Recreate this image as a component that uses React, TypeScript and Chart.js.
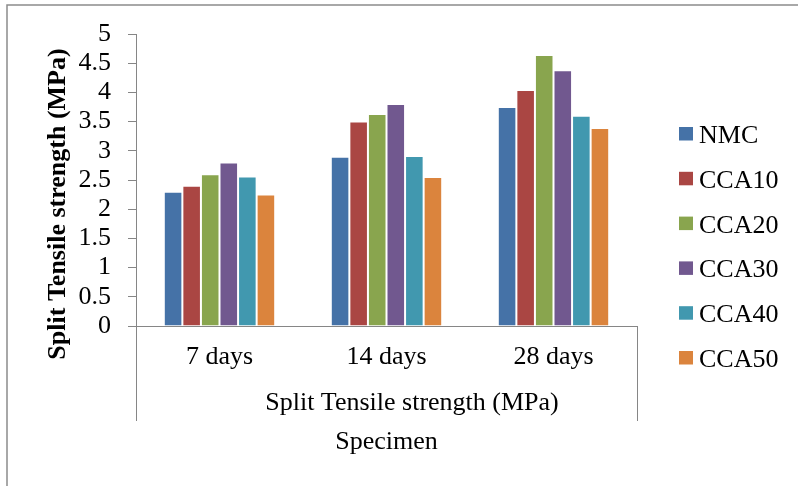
import React, { useEffect, useRef } from "react";
import { Chart, registerables } from "chart.js";

Chart.register(...registerables);

// ---- data ----
const categories = ["7 days", "14 days", "28 days"];
const seriesNames = ["NMC", "CCA10", "CCA20", "CCA30", "CCA40", "CCA50"];
const nmc = [2.3, 2.9, 3.75];
const cca10 = [2.4, 3.5, 4.04];
const cca20 = [2.6, 3.63, 4.64];
const cca30 = [2.8, 3.8, 4.38];
const cca40 = [2.56, 2.91, 3.6];
const cca50 = [2.25, 2.55, 3.39];
const seriesValues = [nmc, cca10, cca20, cca30, cca40, cca50];
const yMin = 0;
const yMax = 5;
const yStep = 0.5;
const groupLabel = "Split Tensile strength (MPa)";
const xTitle = "Specimen";
const yTitle = "Split Tensile strength (MPa)";

// ---- styles ----
const colors = ["#4572A7", "#AA4643", "#89A54E", "#71588F", "#4198AF", "#DB843D"];
const FONT = '"Liberation Serif", "Times New Roman", serif';
const AXIS_GRAY = "#868686";

const decorPlugin = {
  id: "decor",
  afterDraw(chart: any) {
    const ctx = chart.ctx as CanvasRenderingContext2D;
    const { left, right, bottom } = chart.chartArea;
    ctx.save();
    // outer chart border (top & left visible)
    ctx.strokeStyle = "#8c8c8c";
    ctx.lineWidth = 1.5;
    ctx.beginPath();
    ctx.moveTo(7, chart.height);
    ctx.lineTo(7, 5);
    ctx.lineTo(chart.width, 5);
    ctx.stroke();

    // multi-level category box lines
    ctx.strokeStyle = AXIS_GRAY;
    ctx.lineWidth = 1;
    const lx = Math.round(left) + 0.5;
    const rx = Math.round(right) + 0.5;
    ctx.beginPath();
    ctx.moveTo(lx, bottom);
    ctx.lineTo(lx, 421);
    ctx.moveTo(rx, bottom);
    ctx.lineTo(rx, 421);
    ctx.stroke();

    // second-level category label
    ctx.fillStyle = "#000";
    ctx.font = `26px ${FONT}`;
    ctx.textAlign = "center";
    ctx.textBaseline = "alphabetic";
    ctx.fillText(groupLabel, 412, 410);

    // y axis title
    ctx.save();
    ctx.translate(65, 204);
    ctx.rotate(-Math.PI / 2);
    ctx.font = `bold 26px ${FONT}`;
    ctx.textAlign = "center";
    ctx.textBaseline = "alphabetic";
    ctx.fillText(yTitle, 0, 0);
    ctx.restore();

    // legend
    ctx.font = `26px ${FONT}`;
    ctx.textAlign = "left";
    ctx.textBaseline = "alphabetic";
    chart.data.datasets.forEach((ds: any, i: number) => {
      const y0 = 127 + i * 44.8;
      ctx.fillStyle = ds.backgroundColor;
      ctx.fillRect(679, y0, 14, 13.5);
      ctx.fillStyle = "#000";
      ctx.fillText(ds.label, 699, y0 + 16);
    });
    ctx.restore();
  },
};

export default function App() {
  const canvasRef = useRef<HTMLCanvasElement | null>(null);

  useEffect(() => {
    if (!canvasRef.current) return;
    const chart = new Chart(canvasRef.current, {
      type: "bar",
      data: {
        labels: categories,
        datasets: seriesNames.map((name, i) => ({
          label: name,
          data: seriesValues[i],
          backgroundColor: colors[i],
          borderColor: "rgba(255,255,255,0.45)",
          borderWidth: 1,
          categoryPercentage: 0.667,
          barPercentage: 1.0,
        })),
      },
      options: {
        animation: false,
        responsive: false,
        maintainAspectRatio: false,
        layout: { padding: { left: 0, top: 34, right: 161, bottom: 0 } },
        plugins: {
          legend: { display: false },
          tooltip: { enabled: false },
          title: { display: false },
        },
        scales: {
          x: {
            type: "category",
            grid: { display: false, drawTicks: false },
            border: { display: true, color: AXIS_GRAY, width: 1 },
            ticks: {
              color: "#000",
              font: { family: FONT, size: 26 },
              padding: 16,
              maxRotation: 0,
              autoSkip: false,
            },
            title: {
              display: true,
              text: xTitle,
              color: "#000",
              font: { family: FONT, size: 26 },
              padding: { top: 0, bottom: 28 },
            },
            afterFit: (scale: any) => {
              scale.height = 160;
            },
          },
          y: {
            min: yMin,
            max: yMax,
            grid: {
              display: true,
              drawOnChartArea: false,
              drawTicks: true,
              tickLength: 8,
              color: AXIS_GRAY,
            },
            border: { display: true, color: AXIS_GRAY, width: 1 },
            ticks: {
              stepSize: yStep,
              autoSkip: false,
              color: "#000",
              font: { family: FONT, size: 26 },
              padding: 17,
              callback: (v: any) => String(Math.round(Number(v) * 10) / 10),
            },
            afterFit: (scale: any) => {
              scale.width = 136;
            },
          },
        },
      },
      plugins: [decorPlugin],
    });
    return () => chart.destroy();
  }, []);

  return (
    <div style={{ position: "fixed", left: 0, top: 0, width: 798, height: 486, background: "#fff" }}>
      <canvas ref={canvasRef} width={798} height={486} style={{ width: 798, height: 486, display: "block" }} />
    </div>
  );
}
